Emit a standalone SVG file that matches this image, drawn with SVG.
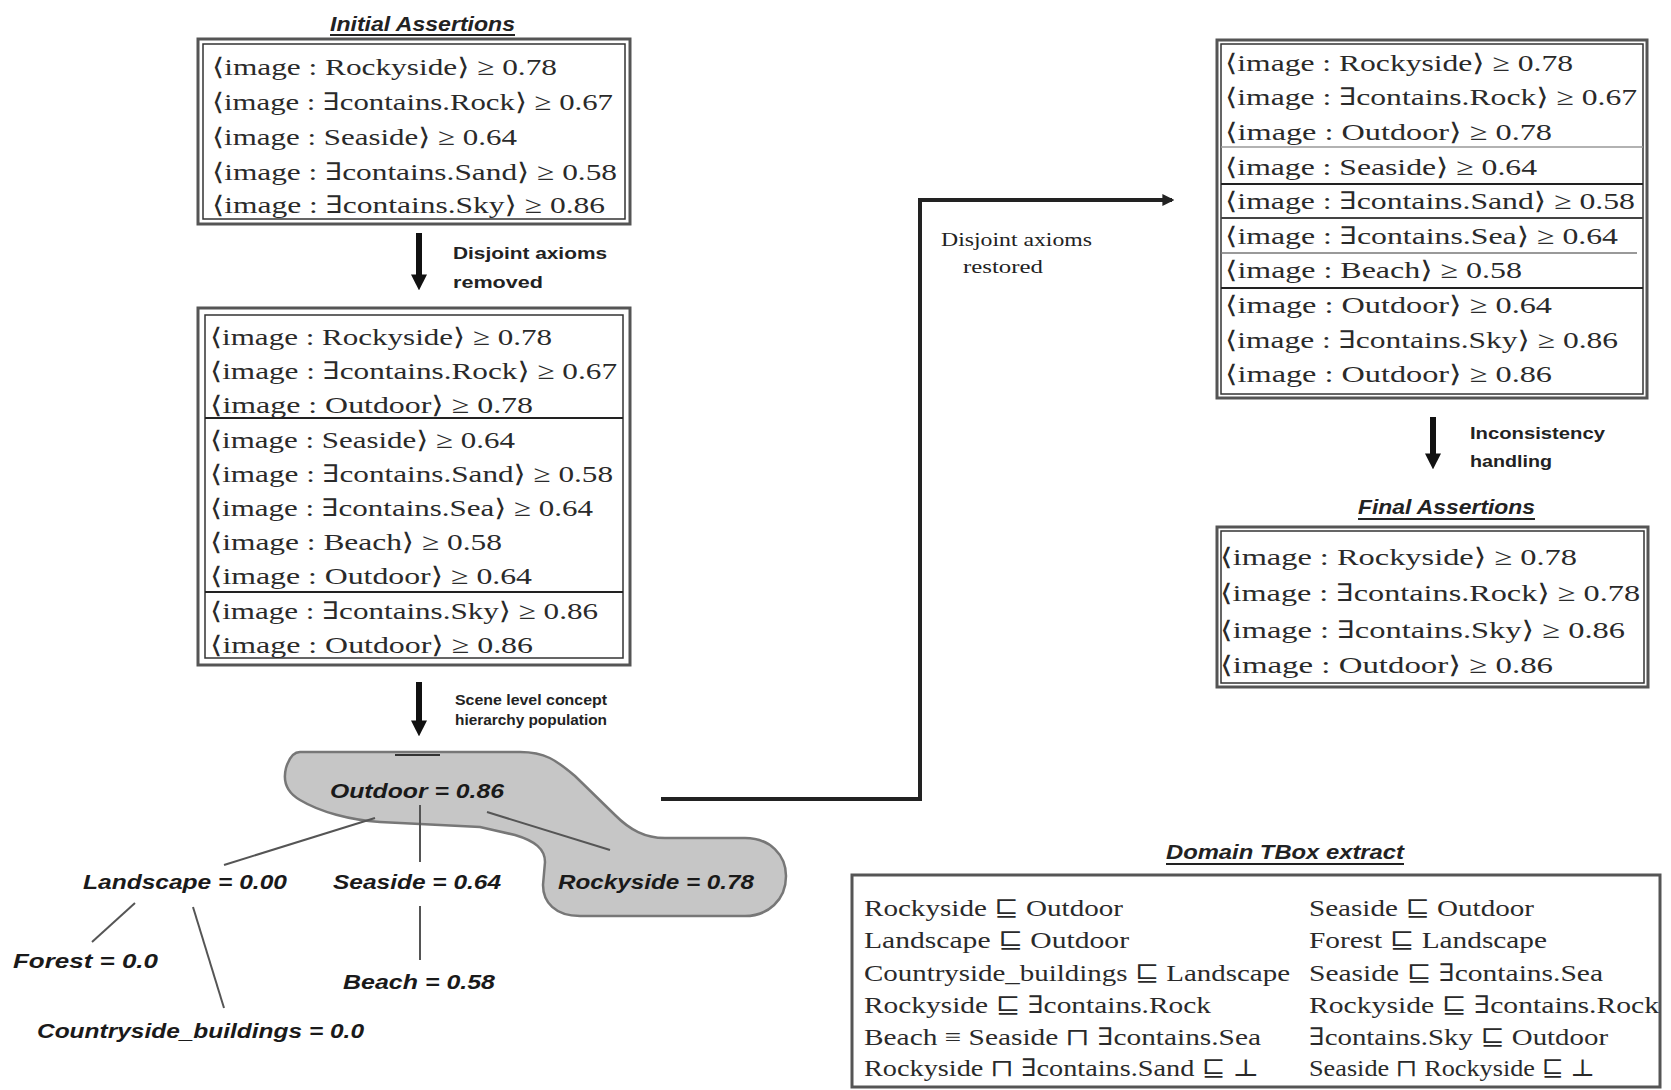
<svg xmlns="http://www.w3.org/2000/svg" width="1671" height="1090" viewBox="0 0 1671 1090">
<style>
.ax{font-family:"Liberation Serif","DejaVu Serif",serif;font-size:24px;fill:#2a2a2a;}
.tb{font-family:"Liberation Serif","DejaVu Serif",serif;font-size:24px;fill:#2a2a2a;}
.ttl{font-family:"Liberation Sans",Arial,sans-serif;font-size:21px;font-weight:bold;font-style:italic;fill:#222;}
.lbl{font-family:"Liberation Sans",Arial,sans-serif;font-size:17px;font-weight:bold;fill:#222;}
.lbls{font-family:"Liberation Sans",Arial,sans-serif;font-size:14px;font-weight:bold;fill:#222;}
.lbr{font-family:"Liberation Serif","DejaVu Serif",serif;font-size:19px;fill:#222;}
.nd{font-family:"Liberation Sans",Arial,sans-serif;font-size:20px;font-weight:bold;font-style:italic;fill:#1a1a1a;}
.box{fill:none;stroke:#555;stroke-width:3;}
.inner{fill:none;stroke:#333;stroke-width:1.5;}
.sep{stroke:#222;stroke-width:2;}
.ul{stroke:#222;stroke-width:2;}
.tree{stroke:#555;stroke-width:2;fill:none;}
.big{stroke:#111;stroke-width:6;fill:none;}
.con{stroke:#222;stroke-width:4;fill:none;}
</style>
<defs>
<marker id="hd" viewBox="0 0 10 10" refX="6" refY="5" markerWidth="16" markerHeight="16" markerUnits="userSpaceOnUse" orient="auto">
<path d="M0,0 L10,5 L0,10 z" fill="#111"/>
</marker>
<marker id="hs" viewBox="0 0 10 10" refX="8" refY="5" markerWidth="12" markerHeight="12" markerUnits="userSpaceOnUse" orient="auto">
<path d="M0,0 L10,5 L0,10 z" fill="#222"/>
</marker>
</defs>
<rect width="1671" height="1090" fill="#ffffff"/>

<g id="blob">
<path d="M300,752 L520,752 C545,752 556,760 575,776 L615,815 C630,830 645,838 665,838 L745,838 C770,838 786,855 786,876 C786,900 768,916 745,916 L580,916 C555,916 543,902 543,885 L545,862 C545,849 535,841 515,835 L480,827 L380,822 C350,820 320,812 300,800 C286,792 283,780 286,768 C289,758 294,752 300,752 Z" fill="#c6c6c6" stroke="#777" stroke-width="2.5"/>
</g>

<g id="connectors">
<line class="big" x1="419" y1="233" x2="419" y2="284" marker-end="url(#hd)"/>
<line class="big" x1="419" y1="682" x2="419" y2="730" marker-end="url(#hd)"/>
<line class="big" x1="1433" y1="417" x2="1433" y2="463" marker-end="url(#hd)"/>
<polyline class="con" points="661,799 920,799 920,200 1172,200" marker-end="url(#hs)"/>
<line class="tree" x1="375" y1="818" x2="224" y2="865"/>
<line class="tree" x1="420" y1="805" x2="420" y2="862"/>
<line class="tree" x1="420" y1="906" x2="420" y2="960"/>
<line class="tree" x1="487" y1="812" x2="610" y2="850"/>
<line class="tree" x1="135" y1="903" x2="92" y2="942"/>
<line class="tree" x1="193" y1="907" x2="224" y2="1008"/>
<line x1="395" y1="755" x2="440" y2="755" stroke="#333" stroke-width="2"/>
</g>

<g id="initial-assertions">
<text class="ttl" x="330" y="31" textLength="185" lengthAdjust="spacingAndGlyphs">Initial Assertions</text>
<line class="ul" x1="330" y1="35" x2="515" y2="35"/>
<rect class="box" x="198" y="39" width="432" height="185"/>
<rect class="inner" x="203" y="44" width="422" height="175"/>
<text class="ax" x="212" y="75" textLength="345" lengthAdjust="spacingAndGlyphs">⟨image : Rockyside⟩ ≥ 0.78</text>
<text class="ax" x="212" y="110" textLength="401" lengthAdjust="spacingAndGlyphs">⟨image : ∃contains.Rock⟩ ≥ 0.67</text>
<text class="ax" x="212" y="145" textLength="305" lengthAdjust="spacingAndGlyphs">⟨image : Seaside⟩ ≥ 0.64</text>
<text class="ax" x="212" y="180" textLength="405" lengthAdjust="spacingAndGlyphs">⟨image : ∃contains.Sand⟩ ≥ 0.58</text>
<text class="ax" x="212" y="213" textLength="393" lengthAdjust="spacingAndGlyphs">⟨image : ∃contains.Sky⟩ ≥ 0.86</text>
</g>

<g id="label-removed">
<text class="lbl" x="453" y="259" textLength="154" lengthAdjust="spacingAndGlyphs">Disjoint axioms</text>
<text class="lbl" x="453" y="288" textLength="90" lengthAdjust="spacingAndGlyphs">removed</text>
</g>

<g id="intermediate-assertions">
<rect class="box" x="198" y="308" width="432" height="357"/>
<rect class="inner" x="205" y="315" width="418" height="343"/>
<line class="sep" x1="205" y1="418" x2="623" y2="418"/>
<line class="sep" x1="205" y1="592" x2="623" y2="592"/>
<text class="ax" x="210" y="345" textLength="342" lengthAdjust="spacingAndGlyphs">⟨image : Rockyside⟩ ≥ 0.78</text>
<text class="ax" x="210" y="379" textLength="407" lengthAdjust="spacingAndGlyphs">⟨image : ∃contains.Rock⟩ ≥ 0.67</text>
<text class="ax" x="210" y="413" textLength="323" lengthAdjust="spacingAndGlyphs">⟨image : Outdoor⟩ ≥ 0.78</text>
<text class="ax" x="210" y="448" textLength="305" lengthAdjust="spacingAndGlyphs">⟨image : Seaside⟩ ≥ 0.64</text>
<text class="ax" x="210" y="482" textLength="403" lengthAdjust="spacingAndGlyphs">⟨image : ∃contains.Sand⟩ ≥ 0.58</text>
<text class="ax" x="210" y="516" textLength="383" lengthAdjust="spacingAndGlyphs">⟨image : ∃contains.Sea⟩ ≥ 0.64</text>
<text class="ax" x="210" y="550" textLength="292" lengthAdjust="spacingAndGlyphs">⟨image : Beach⟩ ≥ 0.58</text>
<text class="ax" x="210" y="584" textLength="322" lengthAdjust="spacingAndGlyphs">⟨image : Outdoor⟩ ≥ 0.64</text>
<text class="ax" x="210" y="619" textLength="388" lengthAdjust="spacingAndGlyphs">⟨image : ∃contains.Sky⟩ ≥ 0.86</text>
<text class="ax" x="210" y="653" textLength="323" lengthAdjust="spacingAndGlyphs">⟨image : Outdoor⟩ ≥ 0.86</text>
</g>

<g id="label-population">
<text class="lbls" x="455" y="705" textLength="152" lengthAdjust="spacingAndGlyphs">Scene level concept</text>
<text class="lbls" x="455" y="725" textLength="152" lengthAdjust="spacingAndGlyphs">hierarchy population</text>
</g>

<g id="node-outdoor"><text class="nd" x="330" y="798" textLength="174" lengthAdjust="spacingAndGlyphs">Outdoor = 0.86</text></g>
<g id="node-landscape"><text class="nd" x="83" y="889" textLength="204" lengthAdjust="spacingAndGlyphs">Landscape = 0.00</text></g>
<g id="node-seaside"><text class="nd" x="333" y="889" textLength="168" lengthAdjust="spacingAndGlyphs">Seaside = 0.64</text></g>
<g id="node-rockyside"><text class="nd" x="558" y="889" textLength="196" lengthAdjust="spacingAndGlyphs">Rockyside = 0.78</text></g>
<g id="node-forest"><text class="nd" x="13" y="968" textLength="145" lengthAdjust="spacingAndGlyphs">Forest = 0.0</text></g>
<g id="node-beach"><text class="nd" x="343" y="989" textLength="152" lengthAdjust="spacingAndGlyphs">Beach = 0.58</text></g>
<g id="node-countryside"><text class="nd" x="37" y="1038" textLength="327" lengthAdjust="spacingAndGlyphs">Countryside_buildings = 0.0</text></g>

<g id="label-restored">
<text class="lbr" x="941" y="246" textLength="151" lengthAdjust="spacingAndGlyphs">Disjoint axioms</text>
<text class="lbr" x="963" y="273" textLength="80" lengthAdjust="spacingAndGlyphs">restored</text>
</g>

<g id="restored-assertions">
<rect class="box" x="1217" y="40" width="430" height="358"/>
<rect class="inner" x="1221" y="44" width="422" height="350"/>
<line x1="1221" y1="147" x2="1643" y2="147" stroke="#999" stroke-width="1.5"/>
<line class="sep" x1="1221" y1="184" x2="1643" y2="184"/>
<line x1="1221" y1="218" x2="1643" y2="218" stroke="#444" stroke-width="2"/>
<line x1="1221" y1="253" x2="1637" y2="253" stroke="#777" stroke-width="1.5"/>
<line class="sep" x1="1221" y1="288" x2="1643" y2="288"/>
<text class="ax" x="1225" y="71" textLength="348" lengthAdjust="spacingAndGlyphs">⟨image : Rockyside⟩ ≥ 0.78</text>
<text class="ax" x="1225" y="105" textLength="412" lengthAdjust="spacingAndGlyphs">⟨image : ∃contains.Rock⟩ ≥ 0.67</text>
<text class="ax" x="1225" y="140" textLength="327" lengthAdjust="spacingAndGlyphs">⟨image : Outdoor⟩ ≥ 0.78</text>
<text class="ax" x="1225" y="175" textLength="312" lengthAdjust="spacingAndGlyphs">⟨image : Seaside⟩ ≥ 0.64</text>
<text class="ax" x="1225" y="209" textLength="410" lengthAdjust="spacingAndGlyphs">⟨image : ∃contains.Sand⟩ ≥ 0.58</text>
<text class="ax" x="1225" y="244" textLength="393" lengthAdjust="spacingAndGlyphs">⟨image : ∃contains.Sea⟩ ≥ 0.64</text>
<text class="ax" x="1225" y="278" textLength="297" lengthAdjust="spacingAndGlyphs">⟨image : Beach⟩ ≥ 0.58</text>
<text class="ax" x="1225" y="313" textLength="327" lengthAdjust="spacingAndGlyphs">⟨image : Outdoor⟩ ≥ 0.64</text>
<text class="ax" x="1225" y="348" textLength="393" lengthAdjust="spacingAndGlyphs">⟨image : ∃contains.Sky⟩ ≥ 0.86</text>
<text class="ax" x="1225" y="382" textLength="327" lengthAdjust="spacingAndGlyphs">⟨image : Outdoor⟩ ≥ 0.86</text>
</g>

<g id="label-inconsistency">
<text class="lbl" x="1470" y="439" textLength="135" lengthAdjust="spacingAndGlyphs">Inconsistency</text>
<text class="lbl" x="1470" y="467" textLength="82" lengthAdjust="spacingAndGlyphs">handling</text>
</g>

<g id="final-assertions">
<text class="ttl" x="1358" y="514" textLength="177" lengthAdjust="spacingAndGlyphs">Final Assertions</text>
<line class="ul" x1="1358" y1="519" x2="1535" y2="519"/>
<rect class="box" x="1217" y="527" width="431" height="160"/>
<rect class="inner" x="1221" y="531" width="423" height="152"/>
<text class="ax" x="1220" y="565" textLength="357" lengthAdjust="spacingAndGlyphs">⟨image : Rockyside⟩ ≥ 0.78</text>
<text class="ax" x="1220" y="601" textLength="420" lengthAdjust="spacingAndGlyphs">⟨image : ∃contains.Rock⟩ ≥ 0.78</text>
<text class="ax" x="1220" y="638" textLength="405" lengthAdjust="spacingAndGlyphs">⟨image : ∃contains.Sky⟩ ≥ 0.86</text>
<text class="ax" x="1220" y="673" textLength="333" lengthAdjust="spacingAndGlyphs">⟨image : Outdoor⟩ ≥ 0.86</text>
</g>

<g id="tbox">
<text class="ttl" x="1166" y="859" textLength="238" lengthAdjust="spacingAndGlyphs">Domain TBox extract</text>
<line class="ul" x1="1166" y1="864" x2="1404" y2="864"/>
<rect class="box" x="852" y="875" width="808" height="212"/>
<text class="tb" x="864" y="916" textLength="259" lengthAdjust="spacingAndGlyphs">Rockyside ⊑ Outdoor</text>
<text class="tb" x="864" y="948" textLength="265" lengthAdjust="spacingAndGlyphs">Landscape ⊑ Outdoor</text>
<text class="tb" x="864" y="981" textLength="426" lengthAdjust="spacingAndGlyphs">Countryside_buildings ⊑ Landscape</text>
<text class="tb" x="864" y="1013" textLength="347" lengthAdjust="spacingAndGlyphs">Rockyside ⊑ ∃contains.Rock</text>
<text class="tb" x="864" y="1045" textLength="397" lengthAdjust="spacingAndGlyphs">Beach ≡ Seaside ⊓ ∃contains.Sea</text>
<text class="tb" x="864" y="1076" textLength="395" lengthAdjust="spacingAndGlyphs">Rockyside ⊓ ∃contains.Sand ⊑ ⊥</text>
<text class="tb" x="1309" y="916" textLength="225" lengthAdjust="spacingAndGlyphs">Seaside ⊑ Outdoor</text>
<text class="tb" x="1309" y="948" textLength="238" lengthAdjust="spacingAndGlyphs">Forest ⊑ Landscape</text>
<text class="tb" x="1309" y="981" textLength="294" lengthAdjust="spacingAndGlyphs">Seaside ⊑ ∃contains.Sea</text>
<text class="tb" x="1309" y="1013" textLength="350" lengthAdjust="spacingAndGlyphs">Rockyside ⊑ ∃contains.Rock</text>
<text class="tb" x="1309" y="1045" textLength="299" lengthAdjust="spacingAndGlyphs">∃contains.Sky ⊑ Outdoor</text>
<text class="tb" x="1309" y="1076" textLength="286" lengthAdjust="spacingAndGlyphs">Seaside ⊓ Rockyside ⊑ ⊥</text>
</g>
</svg>
